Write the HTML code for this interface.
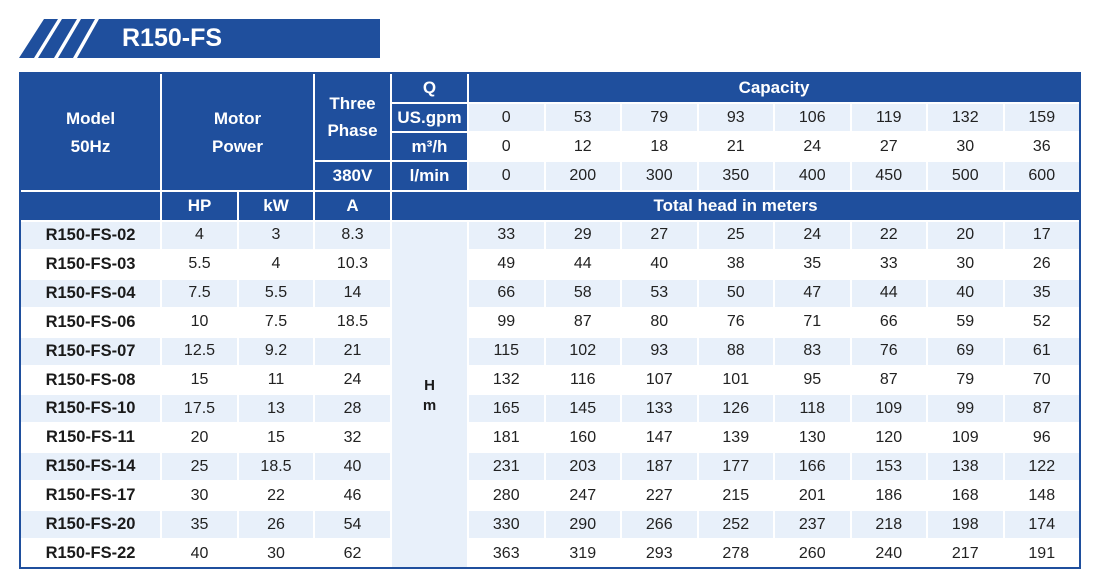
<!DOCTYPE html>
<html>
<head>
<meta charset="utf-8">
<style>
html,body{margin:0;padding:0;background:#fff;}
body{width:1100px;height:588px;position:relative;overflow:hidden;font-family:"Liberation Sans",sans-serif;}
.banner{position:absolute;left:0;top:0;}
.title{position:absolute;left:122px;top:22px;font-size:25px;font-weight:bold;color:#fff;line-height:32px;}
.tbl{position:absolute;left:19px;top:72px;width:1062px;height:497px;box-sizing:border-box;border:2px solid #1f4f9d;background:#fff;
display:grid;grid-template-columns:139px 75px 74px 75px 75px repeat(8,1fr);grid-template-rows:28px 27px 27px 28px 28px repeat(12,1fr);gap:2px;}
.tbl div{display:flex;align-items:center;justify-content:center;text-align:center;font-size:16px;color:#222;}
.tbl .r{display:contents;}
.tbl .L > div{background:#e8f0fa;}
.tbl .b{background:#1f4f9d !important;color:#fff;font-weight:bold;line-height:28px;font-size:17px;}
.tbl .l{background:#e8f0fa;}
.tbl .m{font-weight:bold;color:#1a1a1a;font-size:16.5px;}
</style>
</head>
<body>
<svg class="banner" width="400" height="70">
<polygon points="44,19 58,19 34,58 19,58" fill="#1f4f9d"/>
<polygon points="62,19 77,19 54,58 38,58" fill="#1f4f9d"/>
<polygon points="81,19 95,19 73,58 58,58" fill="#1f4f9d"/>
<polygon points="99,19 380,19 380,58 77,58" fill="#1f4f9d"/>
</svg>
<div class="title">R150-FS</div>

<div class="tbl">
<div class="b" style="grid-column:1;grid-row:1/5;padding-top:2px;">Model<br>50Hz</div>
<div class="b" style="grid-column:2/4;grid-row:1/5;padding-top:2px;">Motor<br>Power</div>
<div class="b" style="grid-column:4;grid-row:1/4;line-height:27px;">Three<br>Phase</div>
<div class="b" style="grid-column:4;grid-row:4;">380V</div>
<div class="b" style="grid-column:6/14;grid-row:1;">Capacity</div>
<div class="b" style="grid-column:5/14;grid-row:5;">Total head in meters</div>
<div class="l m" style="grid-column:5;grid-row:6/18;flex-direction:column;font-size:15px;line-height:20px;padding-top:3px;">H<br>m</div>

<div class="b">Q</div>
<div class="r L"><div class="b">US.gpm</div><div>0</div><div>53</div><div>79</div><div>93</div><div>106</div><div>119</div><div>132</div><div>159</div></div>
<div class="r"><div class="b">m³/h</div><div>0</div><div>12</div><div>18</div><div>21</div><div>24</div><div>27</div><div>30</div><div>36</div></div>
<div class="r L"><div class="b">l/min</div><div>0</div><div>200</div><div>300</div><div>350</div><div>400</div><div>450</div><div>500</div><div>600</div></div>
<div class="b"></div><div class="b">HP</div><div class="b">kW</div><div class="b">A</div>

<div class="r L"><div class="m">R150-FS-02</div><div>4</div><div>3</div><div>8.3</div><div>33</div><div>29</div><div>27</div><div>25</div><div>24</div><div>22</div><div>20</div><div>17</div></div>
<div class="r"><div class="m">R150-FS-03</div><div>5.5</div><div>4</div><div>10.3</div><div>49</div><div>44</div><div>40</div><div>38</div><div>35</div><div>33</div><div>30</div><div>26</div></div>
<div class="r L"><div class="m">R150-FS-04</div><div>7.5</div><div>5.5</div><div>14</div><div>66</div><div>58</div><div>53</div><div>50</div><div>47</div><div>44</div><div>40</div><div>35</div></div>
<div class="r"><div class="m">R150-FS-06</div><div>10</div><div>7.5</div><div>18.5</div><div>99</div><div>87</div><div>80</div><div>76</div><div>71</div><div>66</div><div>59</div><div>52</div></div>
<div class="r L"><div class="m">R150-FS-07</div><div>12.5</div><div>9.2</div><div>21</div><div>115</div><div>102</div><div>93</div><div>88</div><div>83</div><div>76</div><div>69</div><div>61</div></div>
<div class="r"><div class="m">R150-FS-08</div><div>15</div><div>11</div><div>24</div><div>132</div><div>116</div><div>107</div><div>101</div><div>95</div><div>87</div><div>79</div><div>70</div></div>
<div class="r L"><div class="m">R150-FS-10</div><div>17.5</div><div>13</div><div>28</div><div>165</div><div>145</div><div>133</div><div>126</div><div>118</div><div>109</div><div>99</div><div>87</div></div>
<div class="r"><div class="m">R150-FS-11</div><div>20</div><div>15</div><div>32</div><div>181</div><div>160</div><div>147</div><div>139</div><div>130</div><div>120</div><div>109</div><div>96</div></div>
<div class="r L"><div class="m">R150-FS-14</div><div>25</div><div>18.5</div><div>40</div><div>231</div><div>203</div><div>187</div><div>177</div><div>166</div><div>153</div><div>138</div><div>122</div></div>
<div class="r"><div class="m">R150-FS-17</div><div>30</div><div>22</div><div>46</div><div>280</div><div>247</div><div>227</div><div>215</div><div>201</div><div>186</div><div>168</div><div>148</div></div>
<div class="r L"><div class="m">R150-FS-20</div><div>35</div><div>26</div><div>54</div><div>330</div><div>290</div><div>266</div><div>252</div><div>237</div><div>218</div><div>198</div><div>174</div></div>
<div class="r"><div class="m">R150-FS-22</div><div>40</div><div>30</div><div>62</div><div>363</div><div>319</div><div>293</div><div>278</div><div>260</div><div>240</div><div>217</div><div>191</div></div>
</div>
</body>
</html>
